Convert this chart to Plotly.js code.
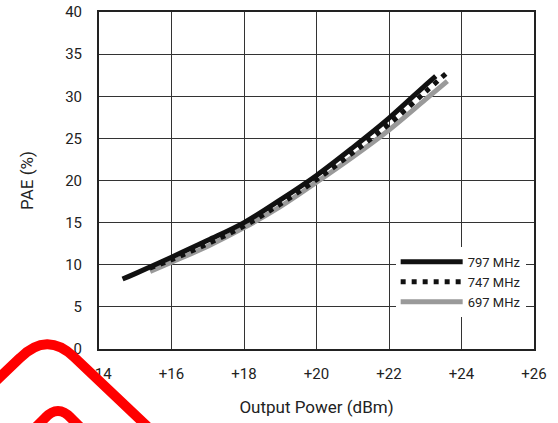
<!DOCTYPE html>
<html>
<head>
<meta charset="utf-8">
<script src="https://cdn.plot.ly/plotly-3.0.1.min.js"></script>
<style>html,body{margin:0;padding:0;background:#fff;}#chart{width:558px;height:423px;}</style>
</head>
<body>
<div id="chart"></div>
<script>
// ---- data ----
var x797 = [14.65, 15, 16, 17, 18, 19, 20, 21, 22, 23, 23.29];
var y797 = [8.3, 8.95, 10.9, 12.9, 15.0, 17.7, 20.6, 23.9, 27.4, 31.3, 32.4];
var x747 = [15.4, 16, 17, 18, 19, 20, 21, 22, 23, 23.68];
var y747 = [9.6, 10.6, 12.5, 14.6, 17.2, 20.1, 23.3, 26.7, 30.5, 33.1];
var x697 = [15.41, 16, 17, 18, 19, 20, 21, 22, 23, 23.61];
var y697 = [9.2, 10.3, 12.2, 14.4, 16.9, 19.8, 22.8, 26.0, 29.6, 31.8];
var seriesNames = ['797 MHz', '747 MHz', '697 MHz'];
var xTickVals = [14, 16, 18, 20, 22, 24, 26];
var xTickText = ['+14', '+16', '+18', '+20', '+22', '+24', '+26'];
var yTickVals = [0, 5, 10, 15, 20, 25, 30, 35, 40];

var FONT = 'Roboto, "DejaVu Sans Condensed", sans-serif';

var traces = [
  {x: x697, y: y697, name: seriesNames[2], mode: 'lines', legendrank: 3,
   line: {color: '#9a9a9a', width: 5, shape: 'spline'}},
  {x: x797, y: y797, name: seriesNames[0], mode: 'lines', legendrank: 1,
   line: {color: '#111111', width: 5, shape: 'spline'}},
  {x: x747, y: y747, name: seriesNames[1], mode: 'lines', legendrank: 2,
   line: {color: '#111111', width: 5, shape: 'spline', dash: '5px,6px'}}
];

// plot area geometry (pixels) for converting the decorative red mark
var L = 99, T = 12, W = 435, H = 337;
function px(x) { return ((x - L) / W).toFixed(4); }
function py(y) { return ((T + H - y) / H).toFixed(4); }
function P(x, y) { return px(x) + ',' + py(y); }

var outer = 'M' + P(-20, 396) + ' L' + P(20, 358) + ' Q' + P(47, 331) + ' ' + P(74, 357) + ' L' + P(150, 429);
var inner = 'M' + P(28, 435) + ' L' + P(45, 418) + ' Q' + P(58, 404) + ' ' + P(71, 418) + ' L' + P(88, 435);

var layout = {
  width: 558, height: 423,
  margin: {l: L, r: 558 - L - W, t: T, b: 423 - T - H},
  paper_bgcolor: '#ffffff', plot_bgcolor: '#ffffff',
  font: {family: FONT, size: 15, color: '#222222'},
  showlegend: true,
  legend: {
    x: 0.682, y: 0.303, xanchor: 'left', yanchor: 'top',
    bgcolor: '#ffffff', borderwidth: 0,
    font: {family: FONT, size: 13, color: '#222222'},
    itemwidth: 62, tracegroupgap: 0
  },
  xaxis: {
    range: [14, 26], tickvals: xTickVals, ticktext: xTickText,
    showgrid: true, gridcolor: '#333333', gridwidth: 1,
    showline: true, linecolor: '#222222', linewidth: 2, mirror: true,
    zeroline: false, ticks: '', ticklabelstandoff: 10,
    tickfont: {family: FONT, size: 15, color: '#222222'},
    title: {text: 'Output Power (dBm)', font: {family: FONT, size: 17, color: '#222222'}, standoff: 19}
  },
  yaxis: {
    range: [0, 40], tickvals: yTickVals,
    showgrid: true, gridcolor: '#333333', gridwidth: 1,
    showline: true, linecolor: '#222222', linewidth: 2, mirror: true,
    zeroline: false, ticks: '', ticklabelstandoff: 12,
    tickfont: {family: FONT, size: 15, color: '#222222'},
    title: {text: 'PAE (%)', font: {family: FONT, size: 17, color: '#222222'}, standoff: 27}
  },
  shapes: [
    {type: 'path', xref: 'paper', yref: 'paper', path: outer, layer: 'above',
     line: {color: 'rgb(255,0,0)', width: 10}},
    {type: 'path', xref: 'paper', yref: 'paper', path: inner, layer: 'above',
     line: {color: 'rgb(255,0,0)', width: 10}}
  ]
};

Plotly.newPlot('chart', traces, layout, {displayModeBar: false, staticPlot: true});
</script>
</body>
</html>
